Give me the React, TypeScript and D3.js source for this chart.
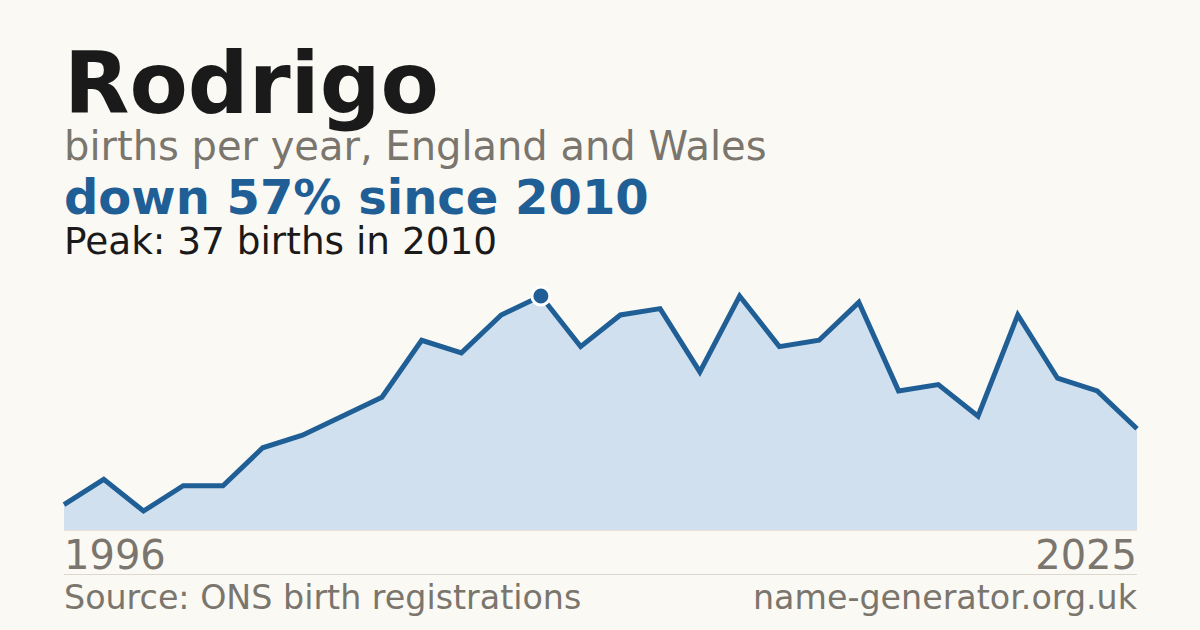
import * as d3 from "d3";

// births per year (years with too few registrations are missing)
const years = [
  1996, 1998, 2000, 2001, 2002, 2003, 2004, 2005, 2006, 2007, 2008, 2009, 2010,
  2011, 2012, 2013, 2014, 2015, 2016, 2017, 2018, 2019, 2020, 2021, 2022, 2023,
  2024, 2025,
];
const births = [
  4, 8, 3, 7, 7, 13, 15, 18, 21, 30, 28, 34, 37, 29, 34, 35, 25, 37, 29, 30, 36,
  22, 23, 18, 34, 24, 22, 16,
];

const title = "Rodrigo";
const subtitle = "births per year, England and Wales";
const headline = "down 57% since 2010";
const peakNote = "Peak: 37 births in 2010";
const source = "Source: ONS birth registrations";
const site = "name-generator.org.uk";

const W = 1200;
const H = 630;
const left = 64;
const right = 1137;
const top = 296;
const bottom = 530;

const font = "DejaVu Sans, sans-serif";
const grey = "#7a756d";
const blue = "#1f5f96";

export default function App() {
  const data = years.map((y, i) => ({ year: y, v: births[i] }));

  const x = d3
    .scalePoint<number>()
    .domain(years)
    .range([left, right]);
  const y = d3
    .scaleLinear()
    .domain([0, d3.max(births) as number])
    .range([bottom, top]);

  const area = d3
    .area<{ year: number; v: number }>()
    .x((d) => x(d.year) as number)
    .y0(bottom)
    .y1((d) => y(d.v));
  const line = d3
    .line<{ year: number; v: number }>()
    .x((d) => x(d.year) as number)
    .y((d) => y(d.v));

  const peakIdx = d3.maxIndex(births);
  const peak = data[peakIdx];

  return (
    <svg
      width={W}
      height={H}
      viewBox={`0 0 ${W} ${H}`}
      style={{ position: "fixed", left: 0, top: 0, display: "block" }}
      fontFamily={font}
    >
      <rect width={W} height={H} fill="#faf9f4" />

      <text x={left} y={113} fontSize={85} fontWeight="bold" fill="#1a1a1a">
        {title}
      </text>
      <text x={left} y={160} fontSize={40} fill={grey}>
        {subtitle}
      </text>
      <text x={left} y={214} fontSize={48} fontWeight="bold" fill={blue}>
        {headline}
      </text>
      <text x={left} y={254} fontSize={37.4} fill="#1a1a1a">
        {peakNote}
      </text>

      <path d={area(data) as string} fill="#d0e0ef" />
      <line x1={left} x2={right} y1={bottom + 0.5} y2={bottom + 0.5} stroke="#e8e0d4" />
      <path
        d={line(data) as string}
        fill="none"
        stroke={blue}
        strokeWidth={5}
        strokeLinejoin="miter"
      />
      <circle
        cx={x(peak.year)}
        cy={y(peak.v)}
        r={9}
        fill={blue}
        stroke="#ffffff"
        strokeWidth={3}
      />

      <text x={left} y={569} fontSize={40} fill={grey}>
        {years[0]}
      </text>
      <text x={right} y={569} fontSize={40} fill={grey} textAnchor="end">
        {years[years.length - 1]}
      </text>
      <line x1={left} x2={right} y1={574.5} y2={574.5} stroke="#dcd8d0" />
      <text x={left} y={609} fontSize={33.3} fill={grey}>
        {source}
      </text>
      <text x={right} y={609} fontSize={33.3} fill={grey} textAnchor="end">
        {site}
      </text>
    </svg>
  );
}
